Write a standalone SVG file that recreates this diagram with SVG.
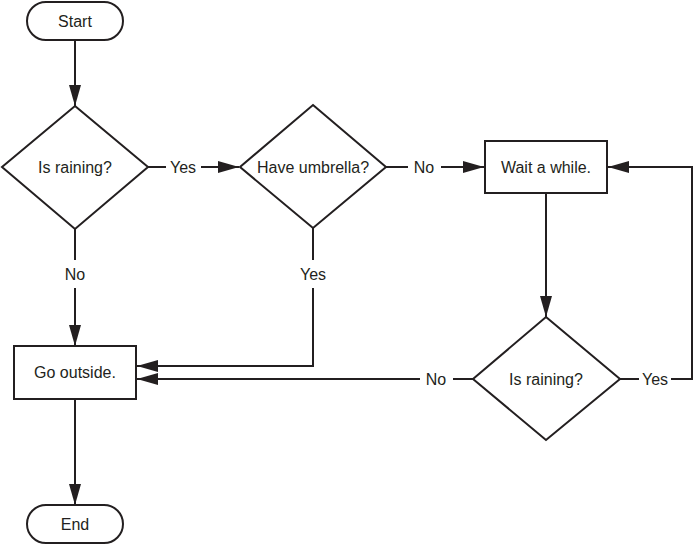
<svg xmlns="http://www.w3.org/2000/svg" width="694" height="545" viewBox="0 0 694 545">
<defs>
<marker id="arr" markerUnits="userSpaceOnUse" markerWidth="22" markerHeight="12" refX="21" refY="6" orient="auto">
<path d="M0,0 L21,6 L0,12 Z" fill="#231f20"/>
</marker>
<style>
.n{fill:#fff;stroke:#231f20;stroke-width:2}
.c{fill:none;stroke:#231f20;stroke-width:2}
text{font-family:"Liberation Sans",Arial,sans-serif;font-size:16px;fill:#231f20;text-anchor:middle;dominant-baseline:central}
</style>
</defs>
<rect width="694" height="545" fill="#fff"/>
<g id="connectors">
<path class="c" d="M75,40 V106" marker-end="url(#arr)"/>
<path class="c" d="M148,167 H166"/>
<path class="c" d="M201,167 H239" marker-end="url(#arr)"/>
<path class="c" d="M386,167 H408"/>
<path class="c" d="M441,167 H484" marker-end="url(#arr)"/>
<path class="c" d="M546,193 V317" marker-end="url(#arr)"/>
<path class="c" d="M620,379 H639"/>
<path class="c" d="M671,379 H692 V167 H608" marker-end="url(#arr)"/>
<path class="c" d="M473,379 H453"/>
<path class="c" d="M420,379 H137" marker-end="url(#arr)"/>
<path class="c" d="M313,228 V260"/>
<path class="c" d="M313,288 V366 H137" marker-end="url(#arr)"/>
<path class="c" d="M75,229 V260"/>
<path class="c" d="M75,288 V346" marker-end="url(#arr)"/>
<path class="c" d="M75,399 V505" marker-end="url(#arr)"/>
<text x="183" y="167">Yes</text>
<text x="424" y="167">No</text>
<text x="655" y="379">Yes</text>
<text x="436" y="379">No</text>
<text x="313" y="274">Yes</text>
<text x="75" y="274">No</text>
</g>
<g id="start">
<rect class="n" x="27" y="2" width="96" height="38" rx="19"/>
<text x="75" y="21">Start</text>
</g>
<g id="raining1">
<path class="n" d="M75,106 L148,167 L75,229 L2,167 Z"/>
<text x="75" y="167">Is raining?</text>
</g>
<g id="umbrella">
<path class="n" d="M313,105 L386,167 L313,228 L240,167 Z"/>
<text x="313" y="167">Have umbrella?</text>
</g>
<g id="wait">
<rect class="n" x="485" y="141" width="122" height="52"/>
<text x="546" y="167">Wait a while.</text>
</g>
<g id="raining2">
<path class="n" d="M546,317 L620,379 L546,440 L473,379 Z"/>
<text x="546" y="379">Is raining?</text>
</g>
<g id="outside">
<rect class="n" x="14" y="346" width="122" height="53"/>
<text x="75" y="372">Go outside.</text>
</g>
<g id="end">
<rect class="n" x="27" y="505" width="96" height="38" rx="19"/>
<text x="75" y="524">End</text>
</g>
</svg>
